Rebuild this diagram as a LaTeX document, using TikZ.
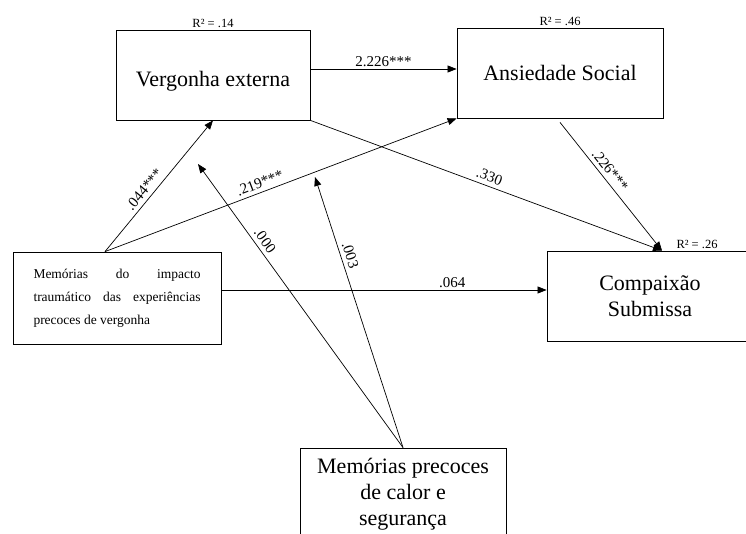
\documentclass[tikz,border=0pt]{standalone}
\usepackage{fontspec}
\setmainfont{Liberation Serif}
\usetikzlibrary{positioning, arrows.meta}

\begin{document}
\begin{tikzpicture}[x=1pt, y=-1pt]
\tikzset{
box/.style={draw, rectangle, line width=0.8pt, minimum width=206pt, minimum height=90pt, align=center, font=\fontsize{22}{26}\selectfont},
small/.style={text width=167pt, align=justify, font=\fontsize{13.5}{23}\selectfont},
arr/.style={line width=0.7pt, -{Triangle[length=9pt,width=7pt]}},
lbl/.style={font=\fontsize{15}{17}\selectfont, inner sep=2pt},
slbl/.style={lbl, sloped, above, inner sep=4pt},
rsq/.style={font=\fontsize{12.5}{14}\selectfont, inner sep=1.5pt, anchor=south}
}

	% frame
	\useasboundingbox (0,0) rectangle (746,534);

	\node[box, minimum width=194pt, text height=24pt, text depth=0pt] at (213,75) (ve) {Vergonha externa};
	\node[box] at (560,73) (as) {Ansiedade Social};
	\node[box] at (650,296) (cs) {Compaixão\\Submissa};
	\node[box, small, minimum width=208pt, minimum height=92pt] at (117,298) (lb) {Memórias do impacto traumático das experiências precoces de vergonha};
	\node[box, minimum height=92pt] at (403,494) (mp) {Memórias precoces\\de calor e\\segurança};

	\node[rsq] at (ve.north) (rve) {R² = .14};
	\node[rsq] at (as.north) (ras) {R² = .46};
	\node[rsq] at ([xshift=47pt]cs.north) (rcs) {R² = .26};

	\coordinate (lbt) at ([xshift=-12pt]lb.north);
	\coordinate (cst) at ([xshift=12pt]cs.north);
	\coordinate (m1) at (198,164);
	\coordinate (m2) at (315,177);

	\draw[arr] ([yshift=6pt]ve.east) -- ([yshift=6pt]ve.east -| as.west) node[lbl, midway, above] {2.226***};
	\draw[arr] (lbt) -- (ve.south) node[slbl, pos=0.43] {.044***};
	\draw[arr] (lbt) -- (as.south west) node[slbl, pos=0.45] {.219***};
	\draw[arr] (ve.south east) -- (cst) node[slbl, pos=0.5] {.330};
	\draw[arr] ([yshift=-4pt]as.south) -- (cst) node[slbl, pos=0.42] {.226***};
	\draw[arr] ([yshift=8pt]lb.east) -- ([yshift=8pt]lb.east -| cs.west) node[lbl, above, pos=0.71] {.064};

	\draw[arr] (mp.north) -- (m1) node[slbl, pos=0.71] {.000};
	\draw[arr] (mp.north) -- (m2) node[slbl, pos=0.70] {.003};

\end{tikzpicture}
\end{document}
